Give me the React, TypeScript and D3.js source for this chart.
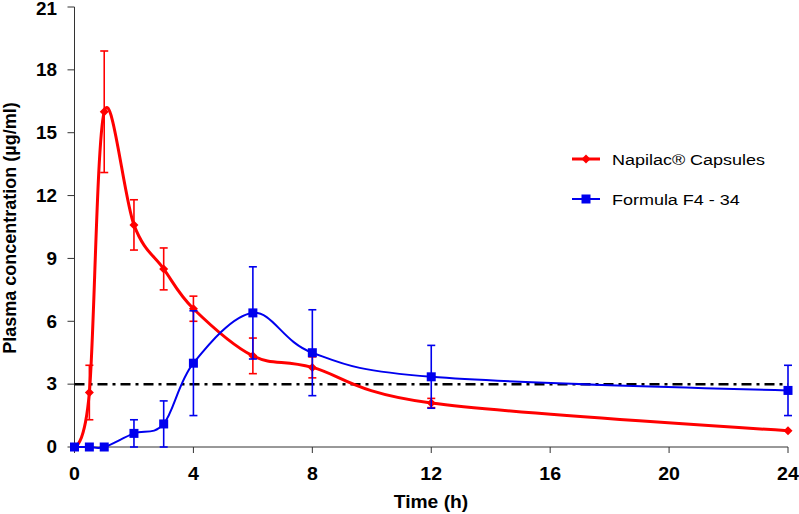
import React from "react";
import * as d3 from "d3";

const times = [0, 0.5, 1, 2, 3, 4, 6, 8, 12, 24];
const napilacMean = [0, 2.6, 16.0, 10.6, 8.5, 6.6, 4.35, 3.8, 2.1, 0.78];
const napilacSD = [0, 1.3, 2.9, 1.2, 1.0, 0.6, 0.85, 0.5, 0.22, 0];
const formulaMean = [0, 0, 0, 0.65, 1.1, 4.0, 6.4, 4.5, 3.35, 2.7];
const formulaSD = [0, 0, 0, 0.65, 1.1, 2.5, 2.2, 2.05, 1.5, 1.2];
const xTicks = [0, 4, 8, 12, 16, 20, 24];
const yTicks = [0, 3, 6, 9, 12, 15, 18, 21];
const threshold = 3;
const seriesNames = ["Napilac\u00AE Capsules", "Formula F4 - 34"];

const W = 799;
const H = 514;
const FONT = "'Liberation Sans', Arial, sans-serif";

function SText(props: {
  x: number;
  y: number;
  sx: number;
  size: number;
  bold?: boolean;
  anchor?: string;
  dy?: string;
  children: React.ReactNode;
}) {
  return (
    <text
      transform={`translate(${props.x},${props.y}) scale(${props.sx},1)`}
      textAnchor={props.anchor || "start"}
      dy={props.dy || "0"}
      fontSize={props.size}
      fontWeight={props.bold ? "bold" : "normal"}
      fill="#000"
    >
      {props.children}
    </text>
  );
}

export default function App() {
  const x = d3.scaleLinear().domain([0, 24]).range([74.5, 788]);
  const y = d3.scaleLinear().domain([0, 21]).range([447, 7]);

  const line = d3
    .line<[number, number]>()
    .x((d) => x(d[0]))
    .y((d) => y(d[1]))
    .curve(d3.curveCatmullRom.alpha(0));

  const red = "#ff0000";
  const blue = "#0000ee";

  const series = [
    { name: seriesNames[0], mean: napilacMean, sd: napilacSD, color: red, width: 3, marker: "diamond" },
    { name: seriesNames[1], mean: formulaMean, sd: formulaSD, color: blue, width: 2, marker: "square" },
  ];

  const marker = (kind: string, cx: number, cy: number, color: string, key: string) => {
    if (kind === "diamond") {
      const r = 4.5;
      return (
        <path
          key={key}
          d={`M${cx},${cy - r}L${cx + r},${cy}L${cx},${cy + r}L${cx - r},${cy}Z`}
          fill={color}
        />
      );
    }
    const s = 9;
    return <rect key={key} x={cx - s / 2} y={cy - s / 2} width={s} height={s} fill={color} />;
  };

  return (
    <svg
      width={W}
      height={H}
      style={{ position: "absolute", left: 0, top: 0, background: "#fff" }}
      fontFamily={FONT}
    >
      <rect width={W} height={H} fill="#fff" />
      {/* axes */}
      <line x1={x(0)} x2={x(0)} y1={y(21)} y2={y(0)} stroke="#333" strokeWidth={1} />
      <line x1={x(0)} x2={x(24)} y1={y(0)} y2={y(0)} stroke="#333" strokeWidth={1} />
      {yTicks.map((t) => (
        <g key={"yt" + t}>
          <line x1={x(0) - 7} x2={x(0)} y1={y(t)} y2={y(t)} stroke="#333" strokeWidth={1} />
          <SText x={57} y={Math.max(y(t), 9)} sx={1.08} size={17.5} bold anchor="end" dy="0.36em">
            {t}
          </SText>
        </g>
      ))}
      {xTicks.map((t) => (
        <g key={"xt" + t}>
          <line x1={x(t)} x2={x(t)} y1={y(0)} y2={y(0) + 6} stroke="#333" strokeWidth={1} />
          <SText x={x(t)} y={480} sx={1.12} size={17.5} bold anchor="middle">
            {t}
          </SText>
        </g>
      ))}
      <SText x={431} y={508} sx={1.1} size={17.5} bold anchor="middle">
        Time (h)
      </SText>
      <text
        transform={`translate(16,228) rotate(-90)`}
        textAnchor="middle"
        fontSize={18}
        fontWeight="bold"
        fill="#000"
      >
        Plasma concentration (µg/ml)
      </text>

      {/* threshold */}
      <line
        x1={x(0)}
        x2={x(24)}
        y1={y(threshold)}
        y2={y(threshold)}
        stroke="#000"
        strokeWidth={2.5}
        strokeDasharray="10,5,3,5"
      />

      {series.map((s, si) => {
        const pts = times.map((t, i) => [t, s.mean[i]] as [number, number]);
        return (
          <g key={"s" + si}>
            {times.map((t, i) =>
              s.sd[i] > 0 ? (
                <g key={"e" + i} stroke={s.color} strokeWidth={1.6}>
                  <line x1={x(t)} x2={x(t)} y1={y(s.mean[i] + s.sd[i])} y2={y(Math.max(0, s.mean[i] - s.sd[i]))} />
                  <line x1={x(t) - 4} x2={x(t) + 4} y1={y(s.mean[i] + s.sd[i])} y2={y(s.mean[i] + s.sd[i])} />
                  <line
                    x1={x(t) - 4}
                    x2={x(t) + 4}
                    y1={y(Math.max(0, s.mean[i] - s.sd[i]))}
                    y2={y(Math.max(0, s.mean[i] - s.sd[i]))}
                  />
                </g>
              ) : null
            )}
            <path d={line(pts) || ""} fill="none" stroke={s.color} strokeWidth={s.width} />
            {pts.map((p, i) => marker(s.marker, x(p[0]), y(p[1]), s.color, "m" + i))}
          </g>
        );
      })}

      {/* legend */}
      {series.map((s, si) => {
        const ly = 159 + si * 40;
        return (
          <g key={"lg" + si}>
            <line x1={572} x2={600} y1={ly} y2={ly} stroke={s.color} strokeWidth={s.width} />
            {marker(s.marker, 586, ly, s.color, "lm" + si)}
            <SText x={612} y={ly} sx={1.16} size={15.5} dy="0.36em">
              {s.name}
            </SText>
          </g>
        );
      })}
    </svg>
  );
}
